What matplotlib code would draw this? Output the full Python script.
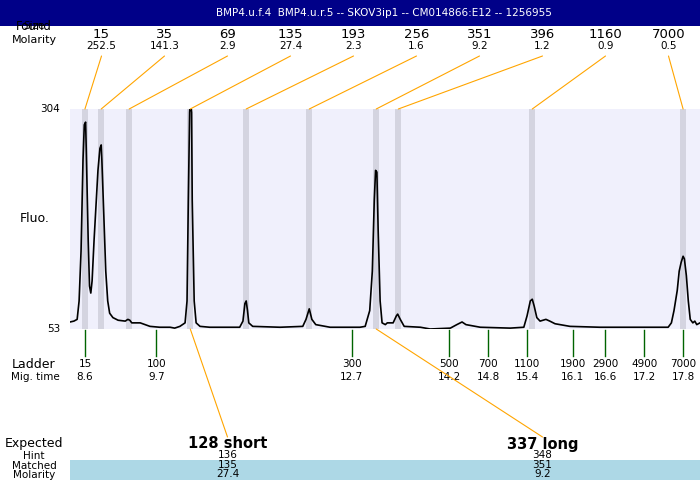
import matplotlib
matplotlib.use("Agg")
import matplotlib.pyplot as plt
from matplotlib.patches import ConnectionPatch, Rectangle
from matplotlib.transforms import blended_transform_factory

title = "BMP4.u.f.4  BMP4.u.r.5 -- SKOV3ip1 -- CM014866:E12 -- 1256955"

# electropherogram trace: migration time (min) vs fluorescence
trace_time = [8.37, 8.43, 8.48, 8.51, 8.54, 8.57, 8.59, 8.61, 8.62, 8.65, 8.67, 8.69,
              8.71, 8.74, 8.77, 8.80, 8.83, 8.85, 8.86, 8.89, 8.92, 8.95, 8.98, 9.03,
              9.11, 9.22, 9.26, 9.29, 9.32, 9.45, 9.60, 9.75, 9.91, 9.98, 10.06, 10.14,
              10.17, 10.19, 10.21, 10.22, 10.24, 10.25, 10.28, 10.31, 10.37, 10.52, 10.98,
              11.03, 11.06, 11.08, 11.10, 11.12, 11.18, 11.60, 11.95, 12.00, 12.05, 12.09,
              12.15, 12.37, 12.83, 12.91, 12.98, 13.02, 13.05, 13.07, 13.09, 13.11, 13.14,
              13.17, 13.22, 13.25, 13.34, 13.39, 13.41, 13.45, 13.51, 13.76, 13.91, 14.22,
              14.32, 14.40, 14.46, 14.68, 15.14, 15.35, 15.40, 15.45, 15.48, 15.51, 15.55,
              15.60, 15.69, 15.75, 15.83, 16.06, 16.52, 17.14, 17.57, 17.62, 17.66, 17.71,
              17.74, 17.77, 17.80, 17.82, 17.85, 17.88, 17.91, 17.95, 17.98, 18.01, 18.06]
trace_fluo = [61, 62, 64, 85, 142, 246, 286, 289, 258, 154, 102, 94,
              108, 154, 194, 234, 259, 263, 246, 183, 119, 85, 71, 66,
              63, 62, 64, 63, 60, 60, 56, 55, 55, 54, 56, 60,
              85, 200, 300, 314, 300, 200, 85, 60, 56, 55, 55,
              62, 82, 85, 74, 60, 56, 55, 56, 64, 76, 64,
              58, 55, 55, 56, 74, 119, 200, 234, 232, 165, 85,
              60, 58, 60, 60, 68, 70, 64, 56, 55, 53, 54,
              58, 61, 58, 55, 54, 55, 68, 85, 87, 79, 66,
              62, 64, 62, 59, 56, 55, 55, 55, 60, 74, 97,
              119, 129, 136, 133, 114, 85, 64, 60, 62, 58, 60]

# found peaks
found_size = ["15", "35", "69", "135", "193", "256", "351", "396", "1160", "7000"]
found_molarity = ["252.5", "141.3", "2.9", "27.4", "2.3", "1.6", "9.2", "1.2", "0.9", "0.5"]
found_time = [8.60, 8.85, 9.28, 10.22, 11.08, 12.05, 13.08, 13.42, 15.48, 17.80]

# ladder
ladder_size = ["15", "100", "300", "500", "700", "1100", "1900", "2900", "4900", "7000"]
ladder_time = [8.6, 9.7, 12.7, 14.2, 14.8, 15.4, 16.1, 16.6, 17.2, 17.8]

# expected products
expected = ["128 short", "337 long"]
hint = ["136", "348"]
matched = ["135", "351"]
matched_molarity = ["27.4", "9.2"]
matched_time = [10.22, 13.08]

fig = plt.figure(figsize=(7, 4.8), dpi=100)
ov = fig.add_axes([0, 0, 1, 1])
ov.set_xlim(0, 700)
ov.set_ylim(480, 0)
ov.axis("off")

ax = fig.add_axes([70 / 700, (480 - 329) / 480, 630 / 700, 220 / 480])
ax.set_facecolor("#f0f0fc")
ax.set_xlim(8.37, 18.06)
ax.set_ylim(53, 304)
for s in ax.spines.values():
    s.set_visible(False)
ax.set_xticks([])
ax.set_yticks([])
for t in found_time:
    ax.axvspan(t - 0.048, t + 0.048, color="#d4d4e0", lw=0)
ax.plot(trace_time, trace_fluo, color="black", lw=1.2)

# title bar
ov.add_patch(Rectangle((0, 0), 700, 26, color="#000088", lw=0))
ov.text(384, 13, title, color="white", fontsize=7.5, ha="center", va="center")

# left labels
ov.text(34, 27, "Found", fontsize=8.5, ha="center", va="center")
ov.text(34, 26, "Size", fontsize=7.5, ha="center", va="center")
ov.text(34, 40, "Molarity", fontsize=8, ha="center", va="center")
ov.text(60, 109, "304", fontsize=7.5, ha="right", va="center")
ov.text(60, 329, "53", fontsize=7.5, ha="right", va="center")
ov.text(35, 218, "Fluo.", fontsize=9, ha="center", va="center")
ov.text(34, 364, "Ladder", fontsize=9, ha="center", va="center")
ov.text(35, 377, "Mig. time", fontsize=7.5, ha="center", va="center")
ov.text(34, 443, "Expected", fontsize=9, ha="center", va="center")
ov.text(34, 456, "Hint", fontsize=7.5, ha="center", va="center")
ov.text(34, 466, "Matched", fontsize=7.5, ha="center", va="center")
ov.text(34, 475, "Molarity", fontsize=7.5, ha="center", va="center")

# found labels with leader lines
n = len(found_size)
for i in range(n):
    xl = 70 + 630 * (i + 0.5) / n
    ov.text(xl, 34, found_size[i], fontsize=9.5, ha="center", va="center")
    ov.text(xl, 46, found_molarity[i], fontsize=7.5, ha="center", va="center")
    con = ConnectionPatch(xyA=(xl, 56), coordsA=ov.transData,
                          xyB=(found_time[i], 304), coordsB=ax.transData,
                          color="orange", lw=0.8)
    fig.add_artist(con)

# ladder ticks and labels
bt = blended_transform_factory(ax.transData, ov.transData)
for s, t in zip(ladder_size, ladder_time):
    ov.plot([t, t], [330, 356], color="#006400", lw=1, transform=bt)
    ov.text(t, 364, s, fontsize=7.5, ha="center", va="center", transform=bt)
    ov.text(t, 377, f"{t}", fontsize=7.5, ha="center", va="center", transform=bt)

# expected rows
ov.add_patch(Rectangle((70, 460), 630, 20, color="#add8e6", lw=0))
m = len(expected)
for i in range(m):
    xl = 70 + 630 * (i + 0.5) / m
    con = ConnectionPatch(xyA=(matched_time[i], 53), coordsA=ax.transData,
                          xyB=(xl, 437), coordsB=ov.transData,
                          color="orange", lw=0.8)
    fig.add_artist(con)
    ov.text(xl, 444, expected[i], fontsize=10.5, fontweight="bold", ha="center", va="center")
    ov.text(xl, 455, hint[i], fontsize=7.5, ha="center", va="center")
    ov.text(xl, 465, matched[i], fontsize=7.5, ha="center", va="center")
    ov.text(xl, 474, matched_molarity[i], fontsize=7.5, ha="center", va="center")

fig.savefig("out.png", dpi=100)
